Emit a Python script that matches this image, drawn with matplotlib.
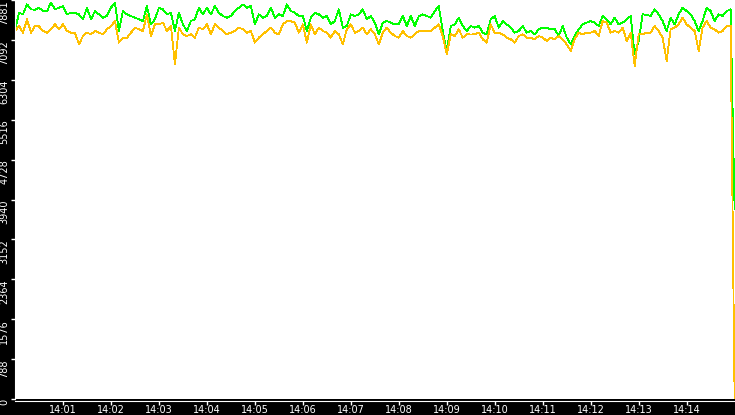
import matplotlib
matplotlib.use("Agg")
import matplotlib.pyplot as plt
import matplotlib.dates as mdates
import numpy as np
import pandas as pd

# samples every 5 s from 14:00:00, last point at 14:15:00
times = list(pd.date_range("2024-01-01 14:00:00", periods=180, freq="5s")) + [pd.Timestamp("2024-01-01 14:15:00")]

green = [
    # 14:00 - 14:03
    7269, 7630, 7597, 7794, 7696, 7690, 7729, 7663, 7658, 7827, 7696, 7729,
    7761, 7597, 7630, 7625, 7597, 7499, 7729, 7499, 7663, 7597, 7532, 7564,
    7729, 7827, 7269, 7663, 7597, 7564, 7532, 7499, 7466, 7761, 7400, 7499,
    # 14:03 - 14:06
    7729, 7696, 7597, 7630, 7269, 7630, 7400, 7269, 7466, 7499, 7729, 7597,
    7729, 7597, 7761, 7630, 7564, 7532, 7564, 7663, 7729, 7794, 7729, 7761,
    7400, 7597, 7532, 7564, 7729, 7532, 7597, 7564, 7794, 7663, 7630, 7564,
    # 14:06 - 14:09
    7564, 7269, 7532, 7630, 7597, 7532, 7564, 7400, 7466, 7696, 7335, 7367,
    7597, 7564, 7597, 7696, 7499, 7564, 7433, 7203, 7433, 7466, 7433, 7400,
    7405, 7564, 7367, 7564, 7367, 7560, 7597, 7564, 7532, 7663, 7761, 7269,
    # 14:09 - 14:12
    6875, 7367, 7400, 7532, 7367, 7269, 7367, 7335, 7367, 7236, 7203, 7499,
    7564, 7335, 7466, 7400, 7335, 7236, 7269, 7367, 7236, 7269, 7203, 7302,
    7335, 7330, 7302, 7305, 7170, 7367, 7138, 7006, 7170, 7302, 7400, 7433,
    # 14:12 - 14:15
    7466, 7433, 7367, 7564, 7499, 7400, 7532, 7400, 7433, 7499, 7564, 6809,
    7072, 7597, 7590, 7564, 7696, 7597, 7466, 7269, 7532, 7400, 7597, 7729,
    7663, 7597, 7466, 7269, 7466, 7729, 7663, 7466, 7597, 7564, 7663, 7696,
    3750,
]

orange = [
    # 14:00 - 14:03
    7269, 7367, 7236, 7499, 7236, 7367, 7360, 7269, 7236, 7302, 7400, 7302,
    7400, 7269, 7236, 7230, 7006, 7170, 7236, 7203, 7269, 7236, 7203, 7302,
    7367, 7466, 7039, 7138, 7135, 7236, 7335, 7302, 7269, 7597, 7170, 7400,
    # 14:03 - 14:06
    7400, 7433, 7269, 7367, 6612, 7335, 7203, 7170, 7203, 7138, 7335, 7302,
    7400, 7203, 7400, 7335, 7269, 7203, 7236, 7269, 7335, 7302, 7236, 7269,
    7039, 7138, 7203, 7269, 7335, 7236, 7203, 7400, 7466, 7460, 7433, 7236,
    # 14:06 - 14:09
    7400, 7039, 7400, 7203, 7335, 7269, 7236, 7138, 7269, 7203, 7006, 7302,
    7400, 7236, 7269, 7335, 7203, 7302, 7203, 7006, 7236, 7335, 7236, 7170,
    7138, 7269, 7170, 7138, 7203, 7269, 7265, 7275, 7269, 7335, 7400, 7170,
    # 14:09 - 14:12
    6809, 7203, 7170, 7302, 7138, 7203, 7200, 7203, 7236, 7105, 7039, 7400,
    7236, 7236, 7203, 7138, 7105, 7039, 7170, 7203, 7138, 7138, 7105, 7170,
    7138, 7072, 7138, 7105, 7170, 7105, 7006, 6875, 7105, 7236, 7203, 7236,
    # 14:12 - 14:15
    7236, 7269, 7170, 7466, 7433, 7236, 7269, 7236, 7335, 7072, 7236, 6579,
    7203, 7200, 7236, 7236, 7367, 7269, 7138, 6678, 7302, 7335, 7400, 7532,
    7400, 7335, 7269, 6875, 7335, 7466, 7335, 7302, 7236, 7269, 7367, 7367,
    0,
]

y_ticks = [0, 788, 1576, 2364, 3152, 3940, 4728, 5516, 6304, 7092, 7881]

fig = plt.figure(figsize=(7.35, 4.15), dpi=100)
fig.patch.set_facecolor("black")
ax = fig.add_axes([15 / 735, 16 / 415, 720 / 735, 399 / 415])
ax.set_facecolor("white")

ax.plot(times, green, color="#00ff00", lw=0.6, antialiased=False)
ax.plot(times, orange, color="#ffc000", lw=0.6, antialiased=False)

ax.set_xlim(pd.Timestamp("2024-01-01 14:00:00"), pd.Timestamp("2024-01-01 14:15:00.5"))
ax.set_ylim(0, 7881)

ax.xaxis.set_major_locator(mdates.MinuteLocator(byminute=range(1, 15)))
ax.xaxis.set_major_formatter(mdates.DateFormatter("%H:%M"))
ax.set_yticks(y_ticks)
ax.set_yticklabels([str(v) for v in y_ticks])

for side in ["top", "right"]:
    ax.spines[side].set_visible(False)
ax.spines["bottom"].set_color("white")
ax.spines["bottom"].set_position(("outward", 1.5))
ax.spines["left"].set_color("white")

ax.tick_params(axis="x", colors="white", direction="out", length=2.8, width=1,
               labelsize=7, pad=0)
ax.tick_params(axis="y", colors="white", direction="out", length=3, width=1,
               labelsize=7, pad=1.2, labelrotation=90)
for lab in ax.get_yticklabels():
    lab.set_va("top")
    lab.set_ha("right")

fig.savefig("out.png", dpi=100, facecolor="black")
